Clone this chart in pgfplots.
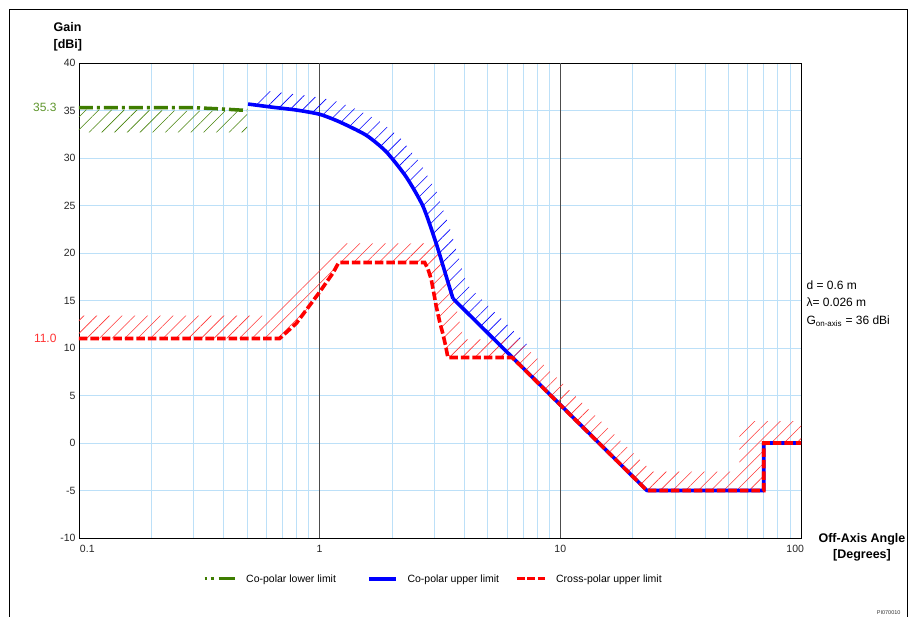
\documentclass[border=0pt]{standalone}
\usepackage{fontspec}
\setmainfont{Liberation Sans}
\usepackage{pgfplots}
\pgfplotsset{compat=1.18}
\usetikzlibrary{patterns.meta}
\definecolor{gridblue}{RGB}{188,224,248}
\definecolor{cpgreen}{RGB}{62,125,0}
\definecolor{lblgreen}{RGB}{95,150,45}
\definecolor{hatchred}{RGB}{255,55,55}
\definecolor{lblred}{RGB}{255,50,50}
\definecolor{hatchgreen}{RGB}{70,130,10}

\begin{document}
\begin{tikzpicture}[x=1pt,y=1pt]
\useasboundingbox (0,0) rectangle (910,616);
\draw[line width=1pt] (9,-2) -- (9,606) -- (907,606) -- (907,-2);
\begin{axis}[
  at={(79pt,78pt)}, anchor=south west,
  width=722pt, height=475pt, scale only axis,
  xmode=log, xmin=0.1, xmax=100, ymin=-10, ymax=40,
  xtick={0.1,1,10,100},
  xticklabels={{\makebox[0pt][l]{\hspace{1pt}0.1}},1,10,{\makebox[0pt][r]{100\hspace{-3pt}}}},
  xticklabel style={yshift=-4pt},
  ytick={-10,-5,...,40},
  minor xtick={0.2,0.3,0.4,0.5,0.6,0.7,0.8,0.9,2,3,4,5,6,7,8,9,20,30,40,50,60,70,80,90},
  xminorgrids=true, ymajorgrids=true, xmajorgrids=false,
  minor grid style={gridblue, line width=0.8pt},
  major grid style={gridblue, line width=0.8pt},
  extra x ticks={1,10}, extra x tick labels={},
  extra x tick style={xmajorgrids=true, major grid style={black!70, line width=0.7pt}},
  major tick length=0pt, minor tick length=0pt,
  axis line style={line width=0.9pt},
  tick label style={font=\fontsize{10.5}{12}\selectfont, text=black!85},
  /pgf/number format/assume math mode=true,
  xlabel={Off-Axis Angle\\{}[Degrees]},
  xlabel style={at={(1.0845,-0.0195)}, anchor=center, align=center, font=\bfseries\fontsize{12.5}{16}\selectfont},
  ylabel={Gain\\{}[dBi]},
  ylabel style={at={(-0.040,1.056)}, rotate=-90, anchor=west, align=left, font=\bfseries\fontsize{12.5}{17}\selectfont},
  legend style={at={(0.1717,-0.0863)}, anchor=west, draw=none, fill=none, legend columns=3,
    font=\fontsize{10.5}{12}\selectfont, inner sep=0pt},
  legend cell align=left,
]
% hatch regions
\addplot[draw=none, forget plot, pattern={Lines[angle=45,distance=9pt,line width=0.6pt]}, pattern color=hatchgreen]
  coordinates {(0.1,35.1) (0.5,34.9) (0.5,32.7) (0.1,32.7)} -- cycle;
\addplot[draw=none, forget plot, pattern={Lines[angle=45,distance=9pt,line width=0.6pt]}, pattern color=blue]
  coordinates {(0.504,35.68) (0.64,35.34) (0.8,35.05) (1.0,34.6) (1.21,33.8) (1.56,32.4) (1.89,30.66)
   (2.29,28.0) (2.69,24.9) (3.05,21.0) (3.36,17.5) (3.58,15.2) (6.5,8.68)
   (7.43,10.15) (4.092,16.67) (3.84,18.97) (3.486,22.47) (3.075,26.37) (2.617,29.47) (2.16,32.13)
   (1.783,33.87) (1.383,35.27) (1.143,36.07) (0.914,36.52) (0.731,36.81) (0.576,37.15)} -- cycle;
\addplot[draw=none, forget plot, pattern={Lines[angle=45,distance=9pt,line width=0.6pt]}, pattern color=hatchred]
  coordinates {(0.1,11) (0.682,11) (0.8,12.6) (1.0,15.9) (1.136,17.9) (1.2,19) (2.73,19) (2.82,18.3)
   (2.91,17.2) (2.98,15.8) (3.05,14.4) (3.15,12.8) (3.25,11.5) (3.34,10.2) (3.41,9) (6.31,9)
   (22.9,-5) (70,-5) (70,0) (100,0)
   (100,2.3) (59,2.3) (55.5,0.8) (55.5,-3) (24,-3) (6.67,10.9) (3.97,10.9) (3.93,11.5) (3.75,13.5)
   (3.58,16) (3.45,18) (3.3,19) (3.0,21) (1.21,21) (0.6,13.4) (0.1,13.4)} -- cycle;
% co-polar lower limit
\addplot[cpgreen, line width=3.5pt, dash pattern=on 14pt off 4pt on 3pt off 4pt,
  legend image code/.code={\draw[cpgreen, line width=3pt, dash pattern=on 2.5pt off 3.5pt on 3pt off 5pt on 16pt off 2pt] (0pt,0pt) -- (30pt,0pt);}]
  coordinates {(0.1,35.3) (0.3,35.3) (0.4,35.15) (0.5,35.0)};
\addlegendentry{\hspace{8pt}Co-polar lower limit\rule{29pt}{0pt}}
% co-polar upper limit
\addplot[blue, line width=3.6pt, smooth, tension=0.4,
  legend image code/.code={\draw[blue, line width=3.5pt] (0pt,0pt) -- (27pt,0pt);}]
  coordinates {(0.504,35.68) (0.64,35.34) (0.8,35.05) (1.0,34.6) (1.21,33.8) (1.56,32.4) (1.89,30.66)
   (2.29,28.0) (2.69,24.9) (3.05,21.0) (3.36,17.5) (3.58,15.2)};
\addlegendentry{\hspace{8pt}Co-polar upper limit\rule{14pt}{0pt}}
\addplot[blue, line width=3.6pt, forget plot, line join=round]
  coordinates {(3.58,15.2) (22.9,-5) (70,-5) (70,0) (100,0)};
% cross-polar upper limit
\addplot[red, line width=3.6pt, dash pattern=on 8.5pt off 3pt,
  legend image code/.code={\draw[red, line width=3pt, dash pattern=on 8pt off 2.5pt] (0pt,0pt) -- (28pt,0pt);}]
  coordinates {(0.1,11) (0.682,11) (0.8,12.6) (1.0,15.9) (1.136,17.9) (1.2,19) (2.73,19) (2.82,18.3)
   (2.91,17.2) (2.98,15.8) (3.05,14.4) (3.15,12.8) (3.25,11.5) (3.34,10.2) (3.41,9) (6.31,9)
   (22.9,-5) (70,-5) (70,0) (100,0)};
\addlegendentry{\hspace{8pt}Cross-polar upper limit}
\end{axis}
\node[anchor=east, text=lblgreen, font=\fontsize{12}{13}\selectfont] at (60,508.5) {35.3};
\node[anchor=east, text=lblred, font=\fontsize{12}{13}\selectfont] at (60,278) {11.0};
\node[anchor=base west, font=\fontsize{12}{14}\selectfont] at (803,326) {d = 0.6 m};
\node[anchor=base west, font=\fontsize{12}{14}\selectfont] at (803,309) {λ= 0.026 m};
\node[anchor=base west, font=\fontsize{12}{14}\selectfont] at (803,291) {G\textsubscript{on-axis} = 36 dBi};
\node[anchor=base east, font=\fontsize{5.5}{6}\selectfont, text=black!80] at (904,1.5) {PI070010};
\end{tikzpicture}
\end{document}
